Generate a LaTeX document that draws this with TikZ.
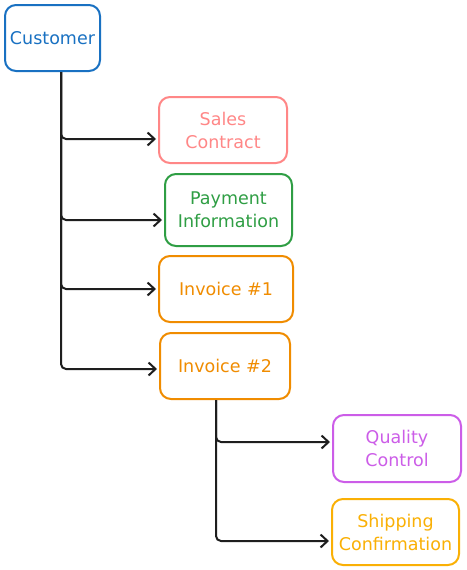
\documentclass[tikz,border=0pt]{standalone}
\usepackage{fontspec}
\setmainfont{DejaVu Sans}
\usetikzlibrary{arrows.meta}
\definecolor{cblue}{HTML}{1971C2}
\definecolor{cred}{HTML}{FF8787}
\definecolor{cgreen}{HTML}{2F9E44}
\definecolor{corange}{HTML}{F08C00}
\definecolor{cpurple}{HTML}{CC5DE8}
\definecolor{cyellow}{HTML}{FAB005}
\definecolor{cline}{HTML}{1E1E1E}
\tikzset{
  box/.style={draw, line width=2pt, rounded corners=11pt, fill=white, align=center,
    font=\fontsize{17.5}{23}\selectfont, inner sep=0pt},
  conn/.style={draw=cline, line width=2pt, rounded corners=5pt,
    -{Straight Barb[length=7pt,width=13pt,line width=2pt]}, shorten >=2pt},
}
\begin{document}
\begin{tikzpicture}[x=1pt,y=-1pt]
\path[fill=white] (0,0) rectangle (466,570);
\useasboundingbox (0,0) rectangle (466,570);
\node[box, draw=cblue, text=cblue, minimum width=95pt, minimum height=66pt] (cust) at (52.5,38) {Customer};
\node[box, draw=cred, text=cred, minimum width=128pt, minimum height=66pt] (sales) at (223,130) {Sales\\Contract};
\node[box, draw=cgreen, text=cgreen, minimum width=127pt, minimum height=72pt] (pay) at (228.5,210) {Payment\\Information};
\node[box, draw=corange, text=corange, minimum width=134pt, minimum height=66pt] (inv1) at (226,289) {Invoice \#1};
\node[box, draw=corange, text=corange, minimum width=130pt, minimum height=66pt] (inv2) at (225,366) {Invoice \#2};
\node[box, draw=cpurple, text=cpurple, minimum width=128pt, minimum height=67pt] (qc) at (397,448.5) {Quality\\Control};
\node[box, draw=cyellow, text=cyellow, minimum width=127pt, minimum height=66pt] (ship) at (395.5,532) {Shipping\\Confirmation};
\coordinate (c0) at ([xshift=8.5pt]cust.south);
\coordinate (i0) at ([xshift=-9pt]inv2.south);
\draw[conn] (c0) |- ([yshift=-9pt]sales.west);
\draw[conn] (c0) |- ([yshift=-10pt]pay.west);
\draw[conn] (c0) |- (inv1.west);
\draw[conn] (c0) |- ([yshift=-3pt]inv2.west);
\draw[conn] (i0) |- ([yshift=6.5pt]qc.west);
\draw[conn] (i0) |- ([yshift=-9pt]ship.west);
\end{tikzpicture}
\end{document}
